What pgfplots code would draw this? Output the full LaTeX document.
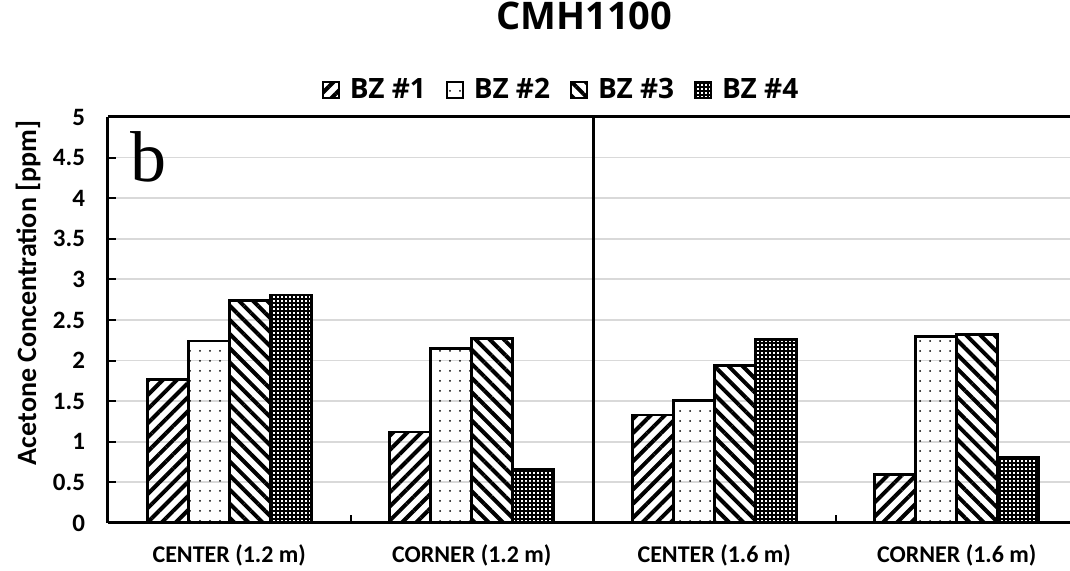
\documentclass[border=0pt]{standalone}
\usepackage{pgfplots}
\pgfplotsset{compat=1.18}
\usetikzlibrary{patterns.meta}
\usepackage{fontspec}
\setmainfont{Carlito}
\newfontfamily\osans{Open Sans}
\newfontfamily\serifb{Liberation Serif}
\begin{document}
\begin{tikzpicture}
\begin{axis}[
  name=ax,
  width=481pt, height=203pt, scale only axis,
  xmin=-0.5, xmax=3.467,
  ymin=0, ymax=5,
  ybar=0pt, bar width=20.5pt,
  axis x line*=box, axis y line*=left,
  axis line style={line width=1.5pt},
  xtick={0,1,2,3},
  xticklabels={CENTER (1.2 m), CORNER (1.2 m), CENTER (1.6 m), CORNER (1.6 m)},
  xtick style={draw=none},
  ytick={0,0.5,...,5},
  ytick style={line width=1pt, black},
  major tick length=4pt,
  tick align=inside,
  ymajorgrids,
  grid style={gray!30, line width=0.9pt},
  /pgf/number format/assume math mode=true,
  yticklabel style={font=\bfseries\fontsize{12.5}{14}\selectfont, xshift=-8pt},
  xticklabel style={font=\bfseries\fontsize{12}{14}\selectfont, yshift=-7.5pt},
  ylabel={Acetone Concentration [ppm]},
  ylabel style={font=\bfseries\fontsize{14}{16}\selectfont, at={(axis description cs:-0.083,0.567)}, anchor=center},
  title={CMH1100},
  title style={font=\osans\bfseries\fontsize{19}{22}\selectfont, at={(axis description cs:0.495,1)}, anchor=center, yshift=44.7pt},
  legend columns=4,
  legend style={draw=none, at={(axis description cs:0.472,1)}, anchor=center, yshift=13.5pt,
    font=\osans\bfseries\fontsize{14}{16}\selectfont,
    /tikz/every odd column/.append style={column sep=3pt},
    /tikz/every even column/.append style={column sep=8pt}},
  legend image code/.code={\draw[#1, line width=1pt] (0pt,-4pt) rectangle (8pt,4pt);},
  clip=false,
]
\addplot[draw=black, line width=1.3pt, pattern={Lines[angle=45,distance=5pt,line width=2pt]}]
  coordinates {(0,1.77) (1,1.12) (2,1.33) (3,0.60)};
\addplot[draw=black, line width=1.3pt, pattern={Dots[radius=0.5pt,distance=5pt]}]
  coordinates {(0,2.24) (1,2.15) (2,1.51) (3,2.30)};
\addplot[draw=black, line width=1.3pt, pattern={Lines[angle=-45,distance=5pt,line width=2pt]}]
  coordinates {(0,2.74) (1,2.27) (2,1.94) (3,2.32)};
\addplot[draw=black, line width=1.3pt, pattern={Hatch[angle=0,distance=2pt,line width=0.75pt]}]
  coordinates {(0,2.81) (1,0.66) (2,2.26) (3,0.81)};
\legend{BZ \#1, BZ \#2, BZ \#3, BZ \#4}
\draw[line width=1.5pt] (axis cs:1.5,0) -- (axis cs:1.5,5);
\draw[line width=1pt] (axis cs:0.5,0) -- ([yshift=4pt]axis cs:0.5,0);
\draw[line width=1pt] (axis cs:2.5,0) -- ([yshift=4pt]axis cs:2.5,0);
\node[anchor=base west, inner sep=0pt, font=\serifb\fontsize{36}{40}\selectfont] at (rel axis cs:0.023,0.842) {b};
\end{axis}
\pgfresetboundingbox
\path[use as bounding box] ([xshift=-54pt, yshift=-24pt]ax.south west) rectangle ([yshift=58.5pt]ax.north east);
\end{tikzpicture}
\end{document}
